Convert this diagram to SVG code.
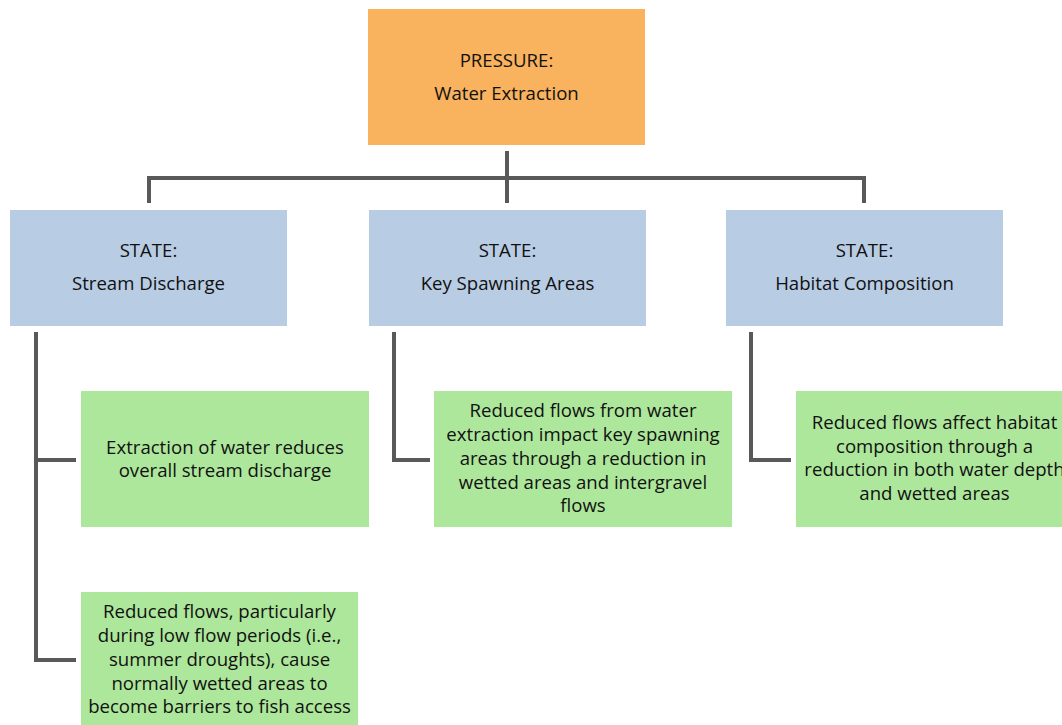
<svg xmlns="http://www.w3.org/2000/svg" width="1062" height="725" viewBox="0 0 1062 725">
<style>
text{font-family:"Open Sans","Noto Sans",sans-serif;font-size:18.6px;fill:#111;text-anchor:middle}
.p{fill:#F9B25E}
.s{fill:#B8CCE4}
.g{fill:#ADE79B}
.c{fill:none;stroke:#595959;stroke-width:4}
</style>
<rect width="1062" height="725" fill="#fff"/>
<g id="connectors">
<path class="c" d="M507 151V203M149 203V178H864V203"/>
<path class="c" d="M36 332V660H76M36 460H76"/>
<path class="c" d="M394 332V460H430"/>
<path class="c" d="M751 332V460H791"/>
</g>
<g id="pressure"><rect class="p" x="368" y="9" width="277" height="136"/>
<text x="506.5" y="67">PRESSURE:</text><text x="506.5" y="100">Water Extraction</text></g>
<g id="state1"><rect class="s" x="10" y="210" width="277" height="116"/>
<text x="148.5" y="257">STATE:</text><text x="148.5" y="290">Stream Discharge</text></g>
<g id="state2"><rect class="s" x="369" y="210" width="277" height="116"/>
<text x="507.5" y="257">STATE:</text><text x="507.5" y="290">Key Spawning Areas</text></g>
<g id="state3"><rect class="s" x="726" y="210" width="277" height="116"/>
<text x="864.5" y="257">STATE:</text><text x="864.5" y="290">Habitat Composition</text></g>
<g id="effect1"><rect class="g" x="81" y="391" width="288" height="136"/>
<text x="225" y="454">Extraction of water reduces</text><text x="225" y="477">overall stream discharge</text></g>
<g id="effect2"><rect class="g" x="81" y="592" width="277" height="140"/>
<text x="219.5" y="618">Reduced flows, particularly</text><text x="219.5" y="642">during low flow periods (i.e.,</text><text x="219.5" y="666">summer droughts), cause</text><text x="219.5" y="690">normally wetted areas to</text><text x="219.5" y="713">become barriers to fish access</text></g>
<g id="effect3"><rect class="g" x="434" y="391" width="298" height="136"/>
<text x="583" y="417">Reduced flows from water</text><text x="583" y="441">extraction impact key spawning</text><text x="583" y="465">areas through a reduction in</text><text x="583" y="489">wetted areas and intergravel</text><text x="583" y="512">flows</text></g>
<g id="effect4"><rect class="g" x="796" y="391" width="277" height="136"/>
<text x="934.5" y="429">Reduced flows affect habitat</text><text x="934.5" y="453">composition through a</text><text x="934.5" y="476">reduction in both water depth</text><text x="934.5" y="500">and wetted areas</text></g>
</svg>
